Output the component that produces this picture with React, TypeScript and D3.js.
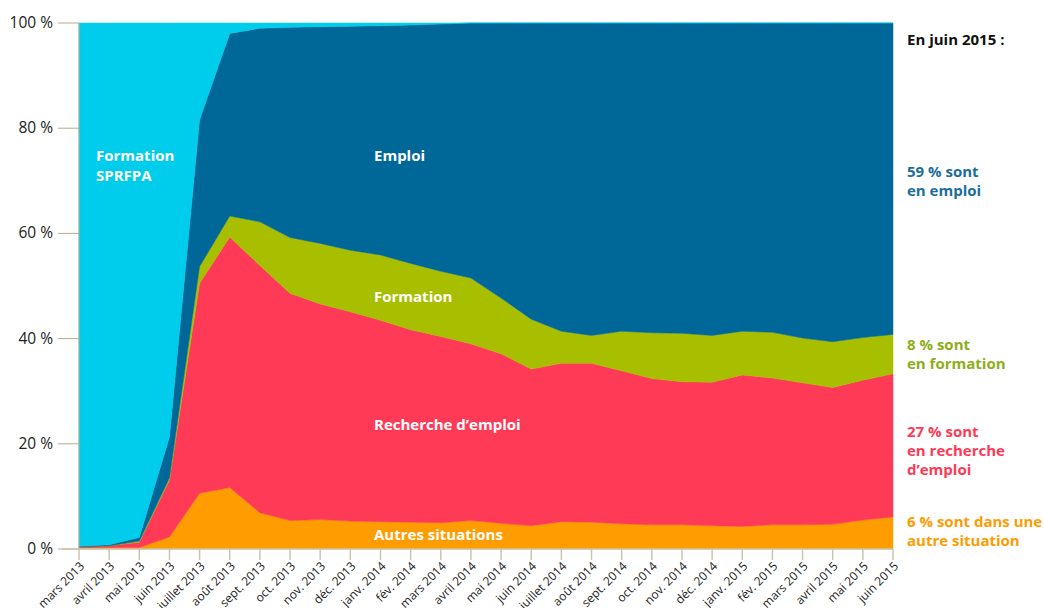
import React from "react";
import * as d3 from "d3";

const months = [
  "mars 2013", "avril 2013", "mai 2013", "juin 2013", "juillet 2013", "août 2013",
  "sept. 2013", "oct. 2013", "nov. 2013", "déc. 2013", "janv. 2014", "fév. 2014",
  "mars 2014", "avril 2014", "mai 2014", "juin 2014", "juillet 2014", "août 2014",
  "sept. 2014", "oct. 2014", "nov. 2014", "déc. 2014", "janv. 2015", "fév. 2015",
  "mars 2015", "avril 2015", "mai 2015", "juin 2015",
];

const autres = [0.2, 0.3, 0.3, 2.3, 10.6, 11.7, 6.9, 5.4, 5.6, 5.3, 5.2, 5.1, 5.0, 5.4, 4.9, 4.4, 5.2, 5.1, 4.8, 4.6, 4.6, 4.4, 4.3, 4.6, 4.6, 4.7, 5.5, 6.1];
const recherche = [0.2, 0.3, 1.0, 10.8, 39.9, 47.6, 47.0, 43.2, 41.0, 39.8, 38.3, 36.6, 35.4, 33.6, 32.2, 29.8, 30.1, 30.2, 29.1, 27.8, 27.2, 27.3, 28.8, 27.9, 27.0, 26.0, 26.6, 27.2];
const formation = [0, 0, 0.2, 0.4, 3.2, 4.0, 8.3, 10.6, 11.5, 11.7, 12.4, 12.6, 12.4, 12.5, 10.6, 9.5, 6.1, 5.3, 7.5, 8.7, 9.2, 8.9, 8.3, 8.7, 8.5, 8.7, 8.1, 7.5];
const emploi = [0.1, 0.2, 0.7, 7.8, 27.9, 34.7, 36.8, 40.0, 41.2, 42.6, 43.6, 45.3, 47.0, 48.5, 52.3, 56.3, 58.6, 59.4, 58.6, 58.9, 59.0, 59.4, 58.6, 58.8, 59.9, 60.6, 59.8, 59.2];
const sprfpa = [99.5, 99.2, 97.8, 78.7, 18.4, 2.0, 1.0, 0.8, 0.7, 0.6, 0.5, 0.4, 0.2, 0, 0, 0, 0, 0, 0, 0, 0, 0, 0, 0, 0, 0, 0, 0];

const yTicks = [0, 20, 40, 60, 80, 100];

const seriesKeys = ["autres", "recherche", "formation", "emploi", "sprfpa"];
const seriesColors: Record<string, string> = {
  autres: "#FF9C00",
  recherche: "#FF3A57",
  formation: "#A8BF00",
  emploi: "#006898",
  sprfpa: "#00CCEB",
};

const font = "'Open Sans', 'Noto Sans', sans-serif";

export default function App() {
  const W = 1044, H = 608;
  const left = 79, right = 893, top = 23, bottom = 549;

  const rows = months.map((m, i) => ({
    i,
    autres: autres[i],
    recherche: recherche[i],
    formation: formation[i],
    emploi: emploi[i],
    sprfpa: sprfpa[i],
  }));

  const x = d3.scaleLinear().domain([0, months.length - 1]).range([left, right]);
  const y = d3.scaleLinear().domain([0, 100]).range([bottom, top]);

  const stack = d3.stack<any>().keys(seriesKeys);
  const stacked = stack(rows);

  const area = d3
    .area<any>()
    .x((d) => x(d.data.i))
    .y0((d) => y(Math.min(100, d[0])))
    .y1((d) => y(Math.min(100, d[1])))
    .curve(d3.curveLinear);

  const axisColor = "#B5AD86";
  const tickColor = "#C9C5AE";

  const inLabel = { fill: "#fff", fontFamily: font, fontWeight: 700, fontSize: 15 } as const;
  const rLabel = { fontFamily: font, fontWeight: 700, fontSize: 15 } as const;

  return (
    <svg width={W} height={H} style={{ position: "absolute", left: 0, top: 0, background: "#fff" }}>
      {stacked.map((s) => (
        <path key={s.key} d={area(s as any) || ""} fill={seriesColors[s.key]} stroke={seriesColors[s.key]} strokeWidth={0.5} />
      ))}

      {/* y axis */}
      <line x1={left} x2={left} y1={top} y2={bottom} stroke={axisColor} strokeWidth={1} />
      {yTicks.map((t) => (
        <g key={t}>
          <line x1={left - 21} x2={left} y1={y(t)} y2={y(t)} stroke={axisColor} strokeWidth={1} />
          <text x={53} y={y(t) + 5} textAnchor="end" fontFamily={font} fontSize={15.5} fill="#222">
            {t} %
          </text>
        </g>
      ))}

      {/* x axis */}
      <line x1={left - 17} x2={right} y1={bottom} y2={bottom} stroke={tickColor} strokeWidth={1.5} />
      {months.map((m, i) => (
        <g key={m}>
          <line x1={x(i)} x2={x(i)} y1={bottom} y2={bottom + 11} stroke={tickColor} strokeWidth={1.5} />
          <text
            transform={`translate(${x(i) + 6},${bottom + 18}) rotate(-45)`}
            textAnchor="end"
            fontFamily={font}
            fontSize={12}
            fill="#222"
          >
            {m}
          </text>
        </g>
      ))}

      {/* in-chart labels */}
      <text x={96} y={161} {...inLabel}>Formation</text>
      <text x={96} y={181} {...inLabel}>SPRFPA</text>
      <text x={374} y={161} {...inLabel}>Emploi</text>
      <text x={374} y={302} {...inLabel}>Formation</text>
      <text x={374} y={430} {...inLabel}>Recherche d’emploi</text>
      <text x={374} y={540} {...inLabel}>Autres situations</text>

      {/* right annotations */}
      <text x={907} y={45} {...rLabel} fill="#111">En juin 2015 :</text>
      <text x={907} y={177} {...rLabel} fill="#1B6E9C">59 % sont</text>
      <text x={907} y={196} {...rLabel} fill="#1B6E9C">en emploi</text>
      <text x={907} y={350} {...rLabel} fill="#8DAE1A">8 % sont</text>
      <text x={907} y={369} {...rLabel} fill="#8DAE1A">en formation</text>
      <text x={907} y={437} {...rLabel} fill="#FF3A57">27 % sont</text>
      <text x={907} y={456} {...rLabel} fill="#FF3A57">en recherche</text>
      <text x={907} y={475} {...rLabel} fill="#FF3A57">d’emploi</text>
      <text x={907} y={527} {...rLabel} fill="#FF9C00">6 % sont dans une</text>
      <text x={907} y={546} {...rLabel} fill="#FF9C00">autre situation</text>
    </svg>
  );
}
